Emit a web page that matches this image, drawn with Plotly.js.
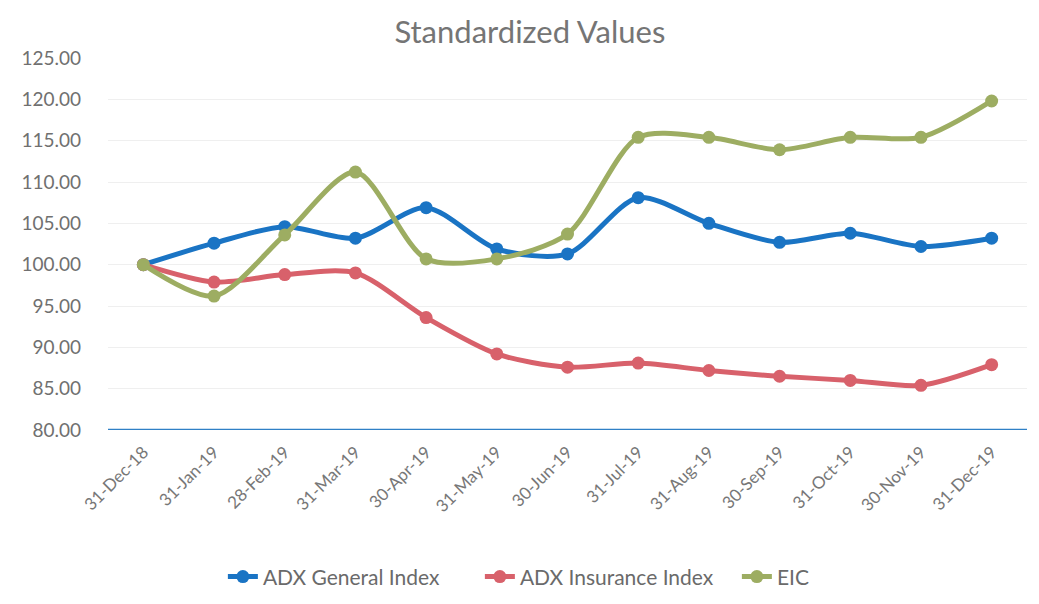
<!DOCTYPE html>
<html><head><meta charset="utf-8">
<script src="https://cdn.plot.ly/plotly-3.0.1.min.js"></script>
<style>html,body{margin:0;padding:0;background:#fff;}#chart{width:1039px;height:604px;}</style>
</head><body><div id="chart"></div>
<script>
const dates = ["31-Dec-18","31-Jan-19","28-Feb-19","31-Mar-19","30-Apr-19","31-May-19","30-Jun-19","31-Jul-19","31-Aug-19","30-Sep-19","31-Oct-19","30-Nov-19","31-Dec-19"];
const adxGeneral = [100.0,102.6,104.6,103.2,106.9,101.9,101.3,108.1,105.0,102.7,103.8,102.2,103.2];
const adxInsurance = [100.0,97.9,98.8,99.0,93.6,89.2,87.6,88.1,87.2,86.5,86.0,85.4,87.9];
const eic = [100.0,96.2,103.6,111.2,100.7,100.7,103.7,115.4,115.4,113.9,115.4,115.4,119.8];
const yTicks = [80,85,90,95,100,105,110,115,120,125];

function tr(name, y, color){
  return {x: dates, y: y, name: name, type:'scatter', mode:'lines+markers',
    line:{color: color, width:5, shape:'spline', smoothing:0.8},
    marker:{color: color, size:13}};
}
const data = [
  tr('ADX General Index', adxGeneral, '#1a74c4'),
  tr('ADX Insurance Index', adxInsurance, '#d8616b'),
  tr('EIC', eic, '#9dad62')
];
const layout = {
  width:1039, height:604,
  margin:{l:108, r:12, t:58, b:174, autoexpand:false},
  paper_bgcolor:'#fff', plot_bgcolor:'#fff',
  font:{family:'Lato, "Open Sans", sans-serif', color:'#666', size:16},
  title:{text:'Standardized Values', font:{size:31, color:'#757575'}, x:0.51, xanchor:'center', y:0.947, yanchor:'middle'},
  xaxis:{type:'category', range:[-0.5,12.5], tickangle:-45, showgrid:false, showline:false, zeroline:false, automargin:false,
    ticks:'', ticklabelstandoff:8, tickfont:{size:17, color:'#777'}},
  yaxis:{range:[80,125], tickvals:yTicks, ticktext:yTicks.map(v=>v.toFixed(2)), showgrid:true, automargin:false,
    gridcolor:'#efefef', gridwidth:1, zeroline:false, showline:false, ticks:'', ticklen:0,
    ticklabelstandoff:26, tickfont:{size:19, color:'#707070'}},
  shapes:[{type:'line', xref:'paper', yref:'y', x0:0, x1:1, y0:80, y1:80, layer:'above', line:{color:'#2f80c6', width:2.5}}],
  legend:{orientation:'h', x:0.125, xanchor:'left', y:-0.395, yanchor:'middle', font:{size:21, color:'#6a6a6a'}, entrywidth:212, entrywidthmode:'pixels'},
  showlegend:true
};
Plotly.newPlot('chart', data, layout, {displayModeBar:false});
</script></body></html>
